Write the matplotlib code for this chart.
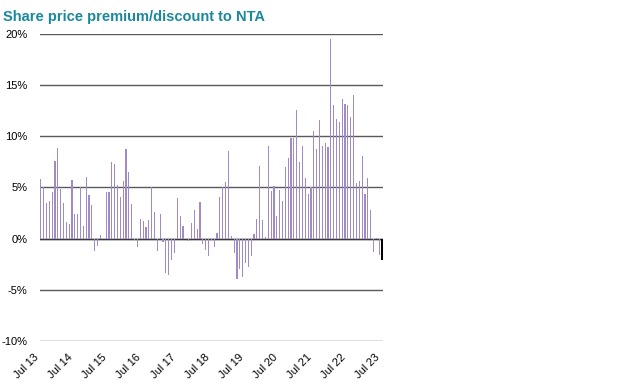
import matplotlib
matplotlib.use("Agg")
import matplotlib.pyplot as plt
import matplotlib.transforms as mtransforms
import numpy as np

plt.rcParams['font.family'] = ['Liberation Sans', 'DejaVu Sans']

title = "Share price premium/discount to NTA"
tick_labels = ["Jul 13", "Jul 14", "Jul 15", "Jul 16", "Jul 17", "Jul 18",
               "Jul 19", "Jul 20", "Jul 21", "Jul 22", "Jul 23"]

# Monthly premium/discount (%) from Jul 2013 to Jul 2023
premium = [
    5.8, 5.0, 3.5, 3.7, 4.6, 7.6, 8.9, 4.9, 3.5, 1.6, 1.4, 5.7,
    2.4, 2.4, 5.0, 1.2, 6.0, 4.3, 3.3, -1.2, -0.7, 0.4, 0.0, 4.6,
    4.6, 7.5, 7.3, 5.2, 4.1, 5.6, 8.8, 6.5, 3.4, -0.1, -0.8, 1.9,
    1.7, 1.1, 1.8, 5.0, 2.6, -1.2, 2.4, -0.3, -3.4, -3.6, -2.1, -1.4,
    4.0, 2.2, 1.2, 0.0, -0.2, 1.5, 2.8, 0.9, 3.6, -0.5, -1.1, -1.7,
    -0.1, -0.8, 0.6, 4.1, 5.0, 5.5, 8.6, 0.3, -1.4, -3.9, -3.0, -3.7,
    -2.4, -2.8, -1.7, 0.5, 1.9, 7.1, 1.8, 0.2, 9.1, 4.7, 5.1, 2.2,
    4.8, 3.7, 7.0, 7.9, 9.8, 9.8, 12.6, 7.5, 9.1, 5.9, 4.4, 5.0,
    10.5, 8.8, 11.6, 9.1, 9.3, 9.0, 19.5, 13.1, 11.7, 11.4, 13.6, 13.2,
    13.1, 11.9, 14.0, 5.4, 5.6, 8.1, 4.4, 5.9, 2.8, -1.3, 0.1, -1.6,
    -2.1,
]

n = len(premium)
x = np.arange(n)

fig = plt.figure(figsize=(6.4, 3.84), dpi=100)
ax = fig.add_axes([0.0625, 0.112, 0.536, 0.7995])

colors = ['#a08ac8'] * (n - 1) + ['#000000']
widths = [0.4] * (n - 1) + [0.75]
ax.bar(x, premium, width=widths, color=colors, linewidth=0, zorder=3)

ax.set_ylim(-10, 20)
ax.set_xlim(-0.25, n - 1 + 0.35)
ax.set_yticks(np.arange(-10, 21, 5))
ax.set_yticklabels([f"{v}%" for v in range(-10, 21, 5)], fontsize=8)
ax.yaxis.grid(True, color='#5a5a5a', linewidth=1.0, zorder=1)
ax.axhline(0, color='#3a3a3a', linewidth=1.0, zorder=2)

ax.set_xticks(np.arange(0, n, 12))
ax.set_xticklabels(tick_labels, rotation=45, ha='right', va='top', fontsize=8)
offset = mtransforms.ScaledTranslation(0.07, 0, fig.dpi_scale_trans)
for lbl in ax.get_xticklabels():
    lbl.set_transform(lbl.get_transform() + offset)

ax.tick_params(axis='both', length=0)
ax.tick_params(axis='y', pad=9)
ax.tick_params(axis='x', pad=8)
for s in ax.spines.values():
    s.set_visible(False)

fig.text(0.005, 0.975, title, fontsize=10.5, fontweight='bold', color='#1a899c',
         ha='left', va='top')

fig.savefig("out.png", dpi=100)
